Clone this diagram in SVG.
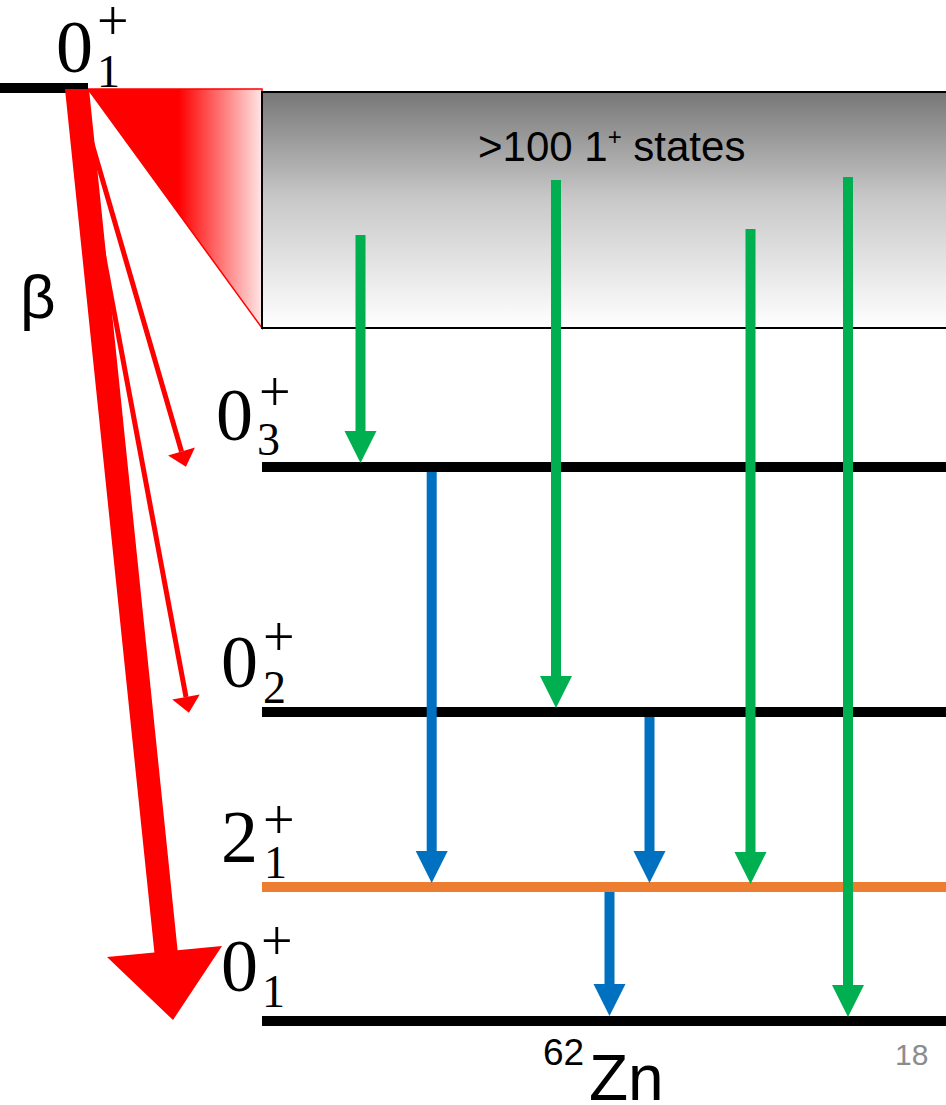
<svg xmlns="http://www.w3.org/2000/svg" width="946" height="1105" viewBox="0 0 946 1105">
  <style>
    .lvl { stroke: #000; stroke-width: 10; }
    .lvl2 { stroke: #ED7D31; stroke-width: 10; }
    .math { font-family: "Liberation Serif", "DejaVu Serif", serif; fill: #000; }
    .big { font-size: 74px; }
    .sub { font-size: 46px; }
    .sup { font-size: 56px; }
    .sans { font-family: "Liberation Sans", Arial, sans-serif; fill: #000; }
    .g { stroke: #00B050; stroke-width: 10; fill: none; }
    .b { stroke: #0070C0; stroke-width: 10; fill: none; }
    .r { stroke: #FF0000; stroke-width: 5; fill: none; }
  </style>
  <defs>
    <linearGradient id="grayGrad" x1="0" y1="0" x2="0" y2="1">
      <stop offset="0" stop-color="#777777"/>
      <stop offset="0.45" stop-color="#c8c8c8"/>
      <stop offset="1" stop-color="#ffffff"/>
    </linearGradient>
    <linearGradient id="redGrad" gradientUnits="userSpaceOnUse" x1="88" y1="0" x2="262" y2="0">
      <stop offset="0" stop-color="#FF0000"/>
      <stop offset="0.52" stop-color="#FF0000"/>
      <stop offset="1" stop-color="#FFE6E6"/>
    </linearGradient>
    <marker id="mg" markerUnits="userSpaceOnUse" markerWidth="32" markerHeight="32" refX="0" refY="16" orient="auto" overflow="visible">
      <path d="M0,0 L32,16 L0,32 Z" fill="#00B050"/>
    </marker>
    <marker id="mb" markerUnits="userSpaceOnUse" markerWidth="32" markerHeight="32" refX="0" refY="16" orient="auto" overflow="visible">
      <path d="M0,0 L32,16 L0,32 Z" fill="#0070C0"/>
    </marker>
    <marker id="mr" markerUnits="userSpaceOnUse" markerWidth="16" markerHeight="28" refX="0" refY="14" orient="auto" overflow="visible">
      <path d="M0,0 L16,14 L0,28 Z" fill="#FF0000"/>
    </marker>
  </defs>

  <rect width="946" height="1105" fill="#ffffff"/>

  <!-- Quasi-continuum of 1+ states -->
  <g id="continuum">
    <polygon points="88,89 262,89 262,328" fill="url(#redGrad)" stroke="#FF0000" stroke-width="1.5"/>
    <rect x="262" y="92" width="700" height="236" fill="url(#grayGrad)" stroke="#000" stroke-width="2"/>
    <text class="sans" x="478" y="161" font-size="42">&gt;100 1<tspan font-size="24" dy="-16">+</tspan><tspan dy="16"> states</tspan></text>
  </g>

  <!-- Parent state -->
  <g id="parent">
    <line class="lvl" x1="0" y1="88" x2="88" y2="88"/>
    <text class="math big" x="56" y="72">0</text>
    <text class="math sup" x="97" y="40">+</text>
    <text class="math sub" x="97" y="87">1</text>
  </g>

  <g id="beta-label">
    <text class="sans" x="20" y="318" font-size="62">β</text>
  </g>

  <g id="level-0-3">
    <line class="lvl" x1="262" y1="467" x2="946" y2="467"/>
    <text class="math big" x="216" y="440">0</text>
    <text class="math sup" x="259" y="411">+</text>
    <text class="math sub" x="257" y="455">3</text>
  </g>

  <g id="level-0-2">
    <line class="lvl" x1="262" y1="712" x2="946" y2="712"/>
    <text class="math big" x="221" y="687">0</text>
    <text class="math sup" x="263" y="656">+</text>
    <text class="math sub" x="263" y="703">2</text>
  </g>

  <g id="level-2-1">
    <line class="lvl2" x1="262" y1="887" x2="946" y2="887"/>
    <text class="math big" x="221" y="862">2</text>
    <text class="math sup" x="263" y="839">+</text>
    <text class="math sub" x="264" y="878">1</text>
  </g>

  <g id="level-0-1">
    <line class="lvl" x1="262" y1="1021" x2="946" y2="1021"/>
    <text class="math big" x="221" y="991">0</text>
    <text class="math sup" x="261" y="960">+</text>
    <text class="math sub" x="262" y="1007">1</text>
  </g>

  <g id="nucleus">
    <text class="sans" x="543" y="1065" font-size="37">62</text>
    <text class="sans" x="589" y="1100" font-size="64">Zn</text>
  </g>

  <g id="page-number">
    <text class="sans" x="895" y="1065" font-size="30" style="fill:#8c8c8c">18</text>
  </g>

  <!-- Connectors -->
  <g id="connectors">
    <!-- beta feeding -->
    <polygon points="65,89 89,89 177.6,950.2 222,946 173,1020 107,957 154.4,952.5" fill="#FF0000"/>
    <line class="r" x1="77" y1="92" x2="181.5" y2="451.5" marker-end="url(#mr)"/>
    <line class="r" x1="73" y1="92" x2="186" y2="697" marker-end="url(#mr)"/>
    <!-- gamma transitions from 1+ states -->
    <line class="g" x1="360.5" y1="235" x2="360.5" y2="431" marker-end="url(#mg)"/>
    <line class="g" x1="556" y1="180" x2="556" y2="676" marker-end="url(#mg)"/>
    <line class="g" x1="750.5" y1="229" x2="750.5" y2="852" marker-end="url(#mg)"/>
    <line class="g" x1="848" y1="177" x2="848" y2="985" marker-end="url(#mg)"/>
    <!-- gamma transitions between low-lying states -->
    <line class="b" x1="431.7" y1="472" x2="431.7" y2="851" marker-end="url(#mb)"/>
    <line class="b" x1="649.5" y1="717" x2="649.5" y2="851" marker-end="url(#mb)"/>
    <line class="b" x1="609.5" y1="892" x2="609.5" y2="984" marker-end="url(#mb)"/>
  </g>
</svg>
